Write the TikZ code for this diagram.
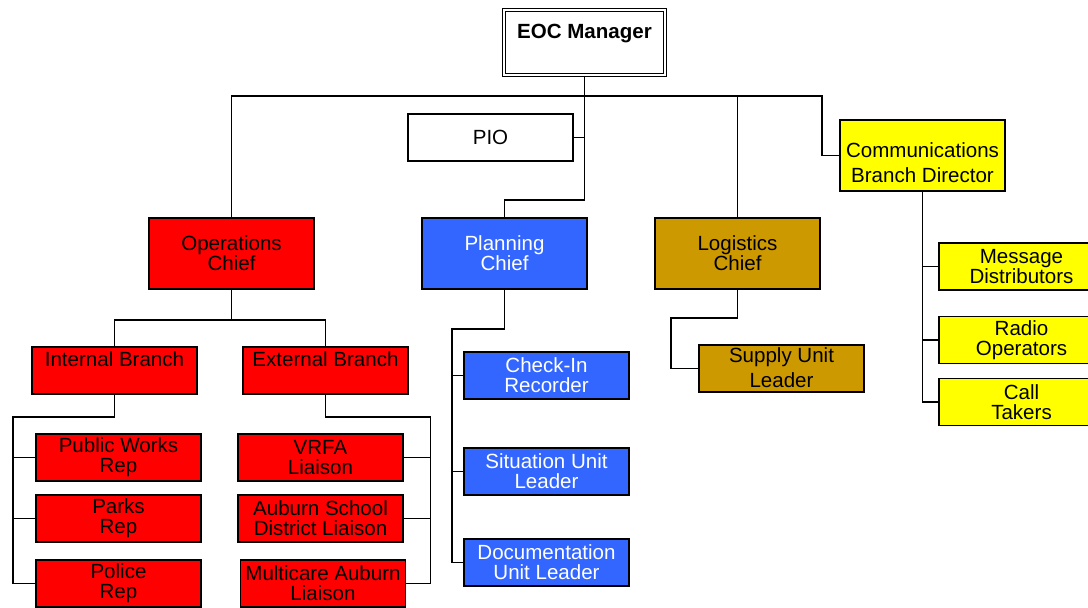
\documentclass[tikz,border=0pt]{standalone}
\usepackage{fontspec}
\setmainfont{Liberation Sans}
\definecolor{opsred}{HTML}{FF0000}
\definecolor{planblue}{HTML}{3366FF}
\definecolor{loggold}{HTML}{CC9900}
\definecolor{commyellow}{HTML}{FFFF00}
\begin{document}
\begin{tikzpicture}[x=0.75pt,y=-0.75pt,line width=1.2pt,
    box/.style={draw,minimum width=123.75pt,minimum height=35.25pt,inner sep=0pt,
      align=center,font=\fontsize{15.4}{15}\selectfont},
    tall/.style={minimum height=53.25pt},
    toptext/.style={text height=11pt,text depth=17pt},
    opsbox/.style={box,fill=opsred},
    planbox/.style={box,fill=planblue,text=white},
    logbox/.style={box,fill=loggold},
    commbox/.style={box,fill=commyellow}]
    \useasboundingbox (0,0) rectangle (1088,607);
		\draw (584.5,42.5) node[box,toptext,minimum width=121pt,minimum height=49pt,line width=0.9pt,double,double distance=1.5pt,font=\fontsize{15.4}{15}\selectfont\bfseries](EOC) {EOC Manager};
		\draw (490.5,137.5) node[box](PIO) {PIO};
		\draw (231.5,253.5) node[opsbox,tall](OPS) {Operations\\Chief};
		\draw (504.5,253.5) node[planbox,tall](PLAN) {Planning\\Chief};
		\draw (737.5,253.5) node[logbox,tall](LOG) {Logistics\\Chief};
		\draw (922.5,155.5) node[commbox,tall,font=\fontsize{15.4}{18.75}\selectfont,text height=44.8pt,text depth=5pt](COMM) {Communications\\Branch Director};
		\draw (114.5,370.5) node[opsbox,toptext](IB) {Internal Branch};
		\draw (325.5,370.5) node[opsbox,toptext](EB) {External Branch};
		\draw (118.5,457.5) node[opsbox](PW) {Public Works\\Rep};
		\draw (118.5,518.5) node[opsbox](PARKS) {Parks\\Rep};
		\draw (118.5,583.5) node[opsbox](POLICE) {Police\\Rep};
		\draw (320.5,457.5) node[opsbox](VRFA) {VRFA\\Liaison};
		\draw (320.5,518.5) node[opsbox](ASD) {Auburn School\\District Liaison};
		\draw (323,583.5) node[opsbox](MULTI) {Multicare Auburn\\Liaison};
		\draw (546.5,375.5) node[planbox](CHK) {Check-In\\Recorder};
		\draw (546.5,471.5) node[planbox](SIT) {Situation Unit\\Leader};
		\draw (546.5,562.5) node[planbox](DOC) {Documentation\\Unit Leader};
		\draw (781.5,368.5) node[logbox,font=\fontsize{15.4}{18.75}\selectfont,text height=30.8pt,text depth=3pt](SUP) {Supply Unit\\Leader};
		\draw (1021.5,266.5) node[commbox](MSG) {Message\\Distributors};
		\draw (1021.5,340) node[commbox](RADIO) {Radio\\Operators};
		\draw (1021.5,402) node[commbox](CALL) {Call\\Takers};
        % top level
        \coordinate (BUS) at (584.5,96);
        \draw (EOC.south) -- (BUS);
        \draw (BUS) -| (OPS.north);
        \draw (BUS) -| (LOG.north);
        \draw (BUS) -| ([xshift=-12.75pt]COMM.west) -- (COMM.west);
        \draw (BUS) -- ++(0,104) -| (PLAN.north);
        \draw (PIO.east) -- (PIO.east -| BUS);
        % operations
        \draw (OPS.south) -- ++(0,30) -| (IB.north);
        \draw (OPS.south) -- ++(0,30) -| (EB.north);
        \draw (IB.south) -- ++(0,22) -| ([xshift=-16.5pt]POLICE.west) -- (POLICE.west);
        \foreach \n in {PW,PARKS} \draw (\n.west) -- ++(-22,0);
        \draw (EB.south) -- ++(0,22) -| ([xshift=18pt]MULTI.east) -- (MULTI.east);
        \foreach \n in {VRFA,ASD} \draw (\n.east) -- ++(27,0);
        % planning
        \draw (PLAN.south) -- ++(0,39) -| ([xshift=-8.25pt]DOC.west) -- (DOC.west);
        \foreach \n in {CHK,SIT} \draw (\n.west) -- ++(-11,0);
        % logistics
        \draw (LOG.south) -- ++(0,28) -| ([xshift=-20.25pt]SUP.west) -- (SUP.west);
        % communications
        \draw (COMM.south) |- (CALL.west);
        \foreach \n in {MSG,RADIO} \draw (\n.west) -- ++(-16,0);
    \end{tikzpicture}
\end{document}
